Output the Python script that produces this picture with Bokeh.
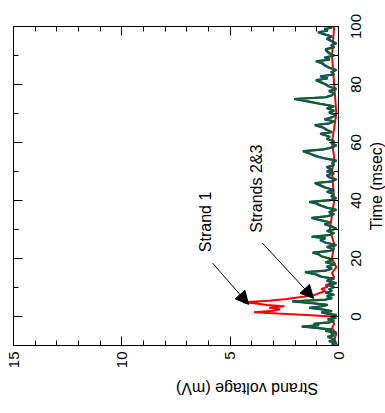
import math
from bokeh.plotting import figure
from bokeh.layouts import row
from bokeh.models import Range1d, LinearAxis, Label, Arrow, NormalHead, FixedTicker, ColumnDataSource
from bokeh.core.properties import value
from bokeh.embed import file_html
from bokeh.resources import INLINE

# ---- data (time in msec, voltage in mV) ----
t23 = [-10, -9.5, -9, -8.5, -8, -7, -6.5, -6, -5.5, -5, -4.5, -3.8, -3.5, -3, -2.5, -2, -1.5, -1, -0.5, 0,
       0.5, 1.0, 1.4, 1.8, 2.3, 3.0, 3.5, 4.0, 4.6, 5.2, 5.8, 6.3, 7.0, 7.5, 8.2, 8.8, 9.5, 10.2, 10.8, 11.5,
       12.3, 13, 13.8, 14.5, 15.3, 15.8, 16.5, 17.2, 18, 18.7, 19.3, 20, 20.8, 21.5, 22, 22.6, 23.2, 24, 24.6, 25.5,
       26.3, 27, 27.5, 28.1, 28.8, 29.5, 30.3, 31, 31.8, 32.5, 33.2, 34, 34.6, 35.3, 36, 36.8, 37.5, 38.3, 39, 39.5,
       40.1, 40.8, 41.5, 42.2, 43, 43.6, 44.5, 45.2, 46, 46.6, 47.3, 48, 48.7, 49.3, 50, 50.7, 51.5, 52.2, 53, 53.8,
       54.5, 55.3, 56.2, 57, 57.6, 58.3, 59, 59.8, 60.5, 61.2, 62, 63, 63.6, 64.3, 65.2, 66, 66.6, 67.3, 68, 68.7,
       69.5, 70.3, 71, 71.8, 72.5, 73.3, 74.2, 75, 75.6, 76.3, 77, 77.7, 78.5, 79.3, 80.2, 81.5, 82.1, 82.8, 83.5, 84.3,
       85, 85.8, 86.6, 87.3, 88, 88.6, 89.3, 90, 90.8, 91.5, 92.2, 92.8, 93.5, 94.2, 95, 95.8, 96.5, 97.3, 98, 98.6,
       99.2, 99.6, 100]
strand3 = [0.1, 0.3, 0.1, 0.4, 0.15, 0.5, 0.2, 0.3, 0.1, 0.6, 0.3, 1.2, 1.65, 0.9, 1.1, 0.4, 0.2, 0.5, 0.1, 0.3,
           0.1, 0.5, 0.75, 0.3, 0.6, 1.3, 0.8, 0.5, 1.2, 2.1, 0.6, 0.3, 0.5, 0.2, 0.6, 0.3, 0.4, 0.2, 0.45, 0.1,
           0.5, 0.2, 0.8, 1.0, 1.5, 0.6, 0.3, 0.5, 0.15, 0.6, 0.3, 0.4, 0.8, 0.9, 1.15, 0.4, 0.2, 0.5, 0.1, 0.6,
           0.8, 0.6, 1.2, 0.4, 0.2, 0.5, 0.1, 0.3, 0.6, 0.4, 0.8, 1.2, 0.5, 0.2, 0.4, 0.1, 0.5, 0.8, 1.0, 1.3,
           0.4, 0.1, 0.3, 0.2, 0.5, 0.2, 0.6, 0.8, 1.05, 0.3, 0.1, 0.4, 0.5, 0.2, 0.5, 0.3, 0.5, 0.2, 0.3, 0.1,
           0.6, 1.0, 1.3, 1.6, 0.7, 0.3, 0.1, 0.3, 0.2, 0.5, 0.4, 0.8, 0.3, 0.5, 0.7, 1.05, 0.4, 0.2, 0.6, 0.3,
           0.1, 0.4, 0.2, 0.5, 0.2, 0.8, 1.4, 2.0, 0.6, 0.3, 0.2, 0.4, 0.1, 0.4, 0.6, 1.0, 0.5, 0.8, 0.2, 0.3,
           0.1, 0.4, 0.6, 0.7, 1.0, 0.4, 0.6, 0.2, 0.4, 0.5, 0.55, 0.2, 0.3, 0.1, 0.3, 0.5, 0.3, 0.6, 0.9, 0.5,
           0.6, 0.3, 0.4]
strand2 = [0.15, 0.3, 0.1, 0.45, 0.15, 0.5, 0.2, 0.35, 0.1, 0.6, 0.3, 1.25, 1.7, 0.9, 1.15, 0.4, 0.2, 0.5, 0.15, 0.3,
           0.1, 0.55, 0.8, 0.3, 0.6, 1.35, 0.8, 0.5, 1.25, 2.15, 0.6, 0.3, 0.55, 0.2, 0.6, 0.3, 0.45, 0.2, 0.5, 0.1,
           0.55, 0.2, 0.85, 1.05, 1.55, 0.6, 0.3, 0.55, 0.15, 0.6, 0.3, 0.45, 0.8, 0.95, 1.2, 0.4, 0.2, 0.55, 0.1, 0.6,
           0.85, 0.6, 1.25, 0.4, 0.2, 0.55, 0.1, 0.3, 0.65, 0.4, 0.85, 1.25, 0.5, 0.2, 0.45, 0.1, 0.55, 0.85, 1.05, 1.35,
           0.4, 0.1, 0.35, 0.2, 0.55, 0.2, 0.65, 0.85, 1.1, 0.3, 0.1, 0.45, 0.55, 0.2, 0.55, 0.3, 0.55, 0.2, 0.3, 0.1,
           0.65, 1.05, 1.35, 1.65, 0.7, 0.3, 0.1, 0.35, 0.2, 0.55, 0.4, 0.85, 0.3, 0.55, 0.75, 1.1, 0.4, 0.2, 0.65, 0.3,
           0.1, 0.45, 0.2, 0.55, 0.2, 0.85, 1.45, 2.05, 0.6, 0.3, 0.2, 0.45, 0.1, 0.45, 0.65, 1.05, 0.5, 0.85, 0.2, 0.35,
           0.1, 0.45, 0.65, 0.75, 1.05, 0.4, 0.65, 0.2, 0.45, 0.55, 0.6, 0.2, 0.35, 0.1, 0.35, 0.55, 0.3, 0.65, 0.95, 0.5,
           0.65, 0.3, 0.45]
t1 = [-10, -8, -6, -4, -2.5, -1, 0, 0.5, 1, 1.5, 2, 2.5, 3, 3.5, 4, 4.5, 4.9, 5.4, 6, 6.6,
      7.2, 8, 8.8, 9.5, 10.2, 10.8, 11.5, 12.5, 13.5, 15, 17, 20, 25, 30, 40, 50, 55, 60, 70, 80,
      90, 100]
strand1 = [0.05, 0.2, 0.1, 0.3, 0.2, 0.3, 0.3, 1.5, 2.8, 3.9, 3.0, 2.7, 3.2, 2.5, 3.3, 3.8, 4.4, 3.2, 2.4, 1.8,
           1.2, 0.9, 0.6, 0.8, 0.5, 0.6, 0.3, 0.5, 0.2, 0.3, 0.1, 0.3, 0.2, 0.4, 0.2, 0.3, 0.2, 0.3, 0.1, 0.2,
           0.3, 0.2]

volt_ticks = [0, 5, 10, 15]
volt_minor = [1, 2, 3, 4, 6, 7, 8, 9, 11, 12, 13, 14]
time_ticks = [0, 20, 40, 60, 80, 100]
time_minor = [-10, 10, 30, 50, 70, 90]
time_tick_labels = ["0", "20", "40", "60", "80", "100"]

FONT = "Liberation Sans"
H = 413
TOP, BOTTOM = 26, 68
T0, T1 = -10, 100
W_MAIN, W_SIDE = 347, 38

p = figure(width=W_MAIN, height=H, output_backend="svg", toolbar_location=None,
           x_range=Range1d(15, 0), y_range=Range1d(T0, T1),
           y_axis_location="right", x_axis_location="below",
           min_border_left=13, min_border_top=TOP, min_border_right=9, min_border_bottom=BOTTOM)
p.frame_align = False
p.grid.visible = False
p.outline_line_color = "black"
p.outline_line_width = 1
p.background_fill_color = "white"
p.border_fill_color = "white"

p.line(strand1, t1, line_color="#ff0000", line_width=2.0)
p.line(strand2, t23, line_color="#1f2fc0", line_width=2.2)
p.line(strand3, t23, line_color="#0a6420", line_width=1.9)


def style(ax, ticks, minor):
    ax.ticker = FixedTicker(ticks=ticks, minor_ticks=minor)
    ax.axis_line_color = "black"
    ax.major_tick_in = 9
    ax.major_tick_out = 0
    ax.minor_tick_in = 5
    ax.minor_tick_out = 0
    ax.major_tick_line_color = "black"
    ax.minor_tick_line_color = "black"
    ax.major_label_text_font = FONT
    ax.major_label_text_font_size = "15px"
    ax.major_label_text_color = "black"
    ax.axis_label_text_font = FONT
    ax.axis_label_text_font_size = "16px"
    ax.axis_label_text_font_style = "normal"
    ax.axis_label_text_color = "black"


def hide_labels(ax):
    ax.major_label_text_color = None
    ax.major_label_text_font_size = "1px"
    ax.major_label_standoff = 0


xb = p.xaxis[0]
style(xb, volt_ticks, volt_minor)
xb.axis_label = "Strand voltage (mV)"
xb.major_label_orientation = math.pi / 2
xb.axis_label_orientation = math.pi
xb.major_label_standoff = 6
xb.axis_label_standoff = 17

yr = p.yaxis[0]
style(yr, time_ticks, time_minor)
hide_labels(yr)

xt = LinearAxis()
style(xt, volt_ticks, volt_minor)
hide_labels(xt)
p.add_layout(xt, "above")

yl = LinearAxis()
style(yl, time_ticks, time_minor)
hide_labels(yl)
p.add_layout(yl, "left")

p.add_layout(Arrow(end=NormalHead(size=13, fill_color="black", line_color="black"),
                   x_start=5.81, y_start=18.4, x_end=4.15, y_end=4.17, line_width=1))
p.add_layout(Arrow(end=NormalHead(size=13, fill_color="black", line_color="black"),
                   x_start=3.51, y_start=25.3, x_end=1.15, y_end=6.25, line_width=1))
p.add_layout(Label(x=6.14, y=32.6, text="Strand 1", angle=math.pi / 2, text_align="center",
                   text_baseline="middle", text_font=FONT, text_font_size="16px", text_color="black"))
p.add_layout(Label(x=3.78, y=44.1, text="Strands 2&3", angle=math.pi / 2, text_align="center",
                   text_baseline="middle", text_font=FONT, text_font_size="16px", text_color="black"))

# right-hand strip (full-height frame, same time scale as the main frame)
per_px = (T1 - T0) / (H - TOP - BOTTOM)
p2 = figure(width=W_SIDE, height=H, output_backend="svg", toolbar_location=None,
            x_axis_location=None, y_axis_location=None,
            x_range=Range1d(0, W_SIDE), y_range=Range1d(T0 - BOTTOM * per_px, T1 + TOP * per_px),
            min_border_left=0, min_border_right=0, min_border_top=0, min_border_bottom=0)
p2.frame_align = False
p2.grid.visible = False
p2.outline_line_color = None
p2.background_fill_color = "white"
p2.border_fill_color = "white"

src = ColumnDataSource(dict(y=time_ticks, txt=time_tick_labels, x=[8.5] * len(time_ticks)))
p2.text(x="x", y="y", text="txt", source=src, angle=math.pi / 2, text_align="center",
        text_baseline="middle", text_font=value(FONT), text_font_size="15px", text_color="black")
p2.add_layout(Label(x=29, y=(T0 + T1) / 2, text="Time (msec)", angle=math.pi / 2, text_align="center",
                    text_baseline="middle", text_font=FONT, text_font_size="16px", text_color="black"))

layout = row(p, p2, spacing=0)
open("out.html", "w").write(file_html(layout, INLINE))
